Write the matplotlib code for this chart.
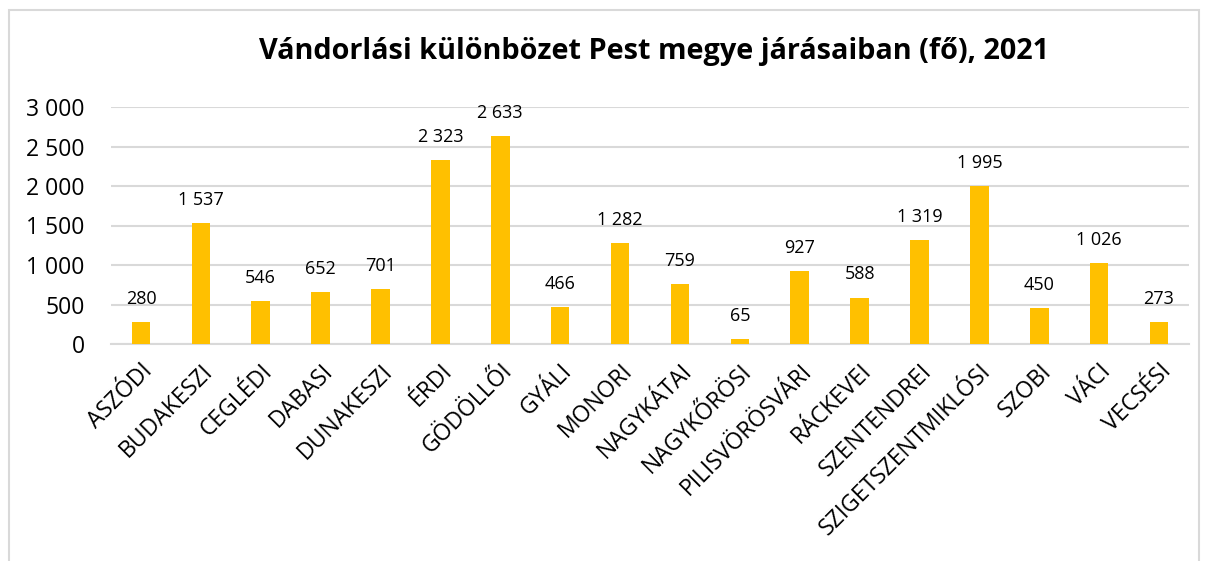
import matplotlib
matplotlib.use("Agg")
import matplotlib.pyplot as plt
from matplotlib.patches import Rectangle

categories = ["ASZÓDI", "BUDAKESZI", "CEGLÉDI", "DABASI", "DUNAKESZI", "ÉRDI",
              "GÖDÖLLŐI", "GYÁLI", "MONORI", "NAGYKÁTAI", "NAGYKŐRÖSI",
              "PILISVÖRÖSVÁRI", "RÁCKEVEI", "SZENTENDREI", "SZIGETSZENTMIKLÓSI",
              "SZOBI", "VÁCI", "VECSÉSI"]
values = [280, 1537, 546, 652, 701, 2323, 2633, 466, 1282, 759, 65, 927, 588,
          1319, 1995, 450, 1026, 273]
yticks = [0, 500, 1000, 1500, 2000, 2500, 3000]
title = "Vándorlási különbözet Pest megye járásaiban (fő), 2021"

def fmt(v):
    return f"{v:,}".replace(",", " ")

plt.rcParams['font.family'] = ['Open Sans', 'DejaVu Sans']

W, H = 1206, 561
fig = plt.figure(figsize=(W / 100, H / 100), dpi=100)
fig.patches.append(Rectangle((9 / W, -0.1), (1199 - 9) / W, 1.1 - 10 / H,
                             transform=fig.transFigure, fill=False,
                             edgecolor="#D9D9D9", linewidth=1.5))

ax = fig.add_axes([111 / W, 1 - 344 / H, (1189 - 111) / W, (344 - 107) / H])
x = list(range(len(categories)))
ax.bar(x, values, width=0.31, color="#FFC000", zorder=3)
for xi, v in zip(x, values):
    ax.annotate(fmt(v), (xi, v), xytext=(0, 13), textcoords="offset points",
                ha="center", va="baseline", fontsize=13, color="#000000")

ax.set_xlim(-0.5, len(categories) - 0.5)
ax.set_ylim(0, 3000)
ax.set_yticks(yticks)
ax.set_yticklabels([fmt(t) for t in yticks], fontsize=16.5)
ax.set_xticks(x)
ax.set_xticklabels(categories, rotation=45, ha="right", rotation_mode="anchor",
                   fontsize=16.5)
ax.tick_params(axis="both", length=0)
ax.tick_params(axis="y", pad=19)
ax.tick_params(axis="x", pad=11)
ax.grid(axis="y", color="#D9D9D9", linewidth=1.5, zorder=0)
for s in ["top", "right", "left"]:
    ax.spines[s].set_visible(False)
ax.spines["bottom"].set_color("#D9D9D9")
ax.spines["bottom"].set_linewidth(1.5)

fig.text(654 / W, 1 - 52 / H, title, ha="center", va="center",
         fontsize=20.8, fontweight="bold")

fig.savefig("out.png", dpi=100)
